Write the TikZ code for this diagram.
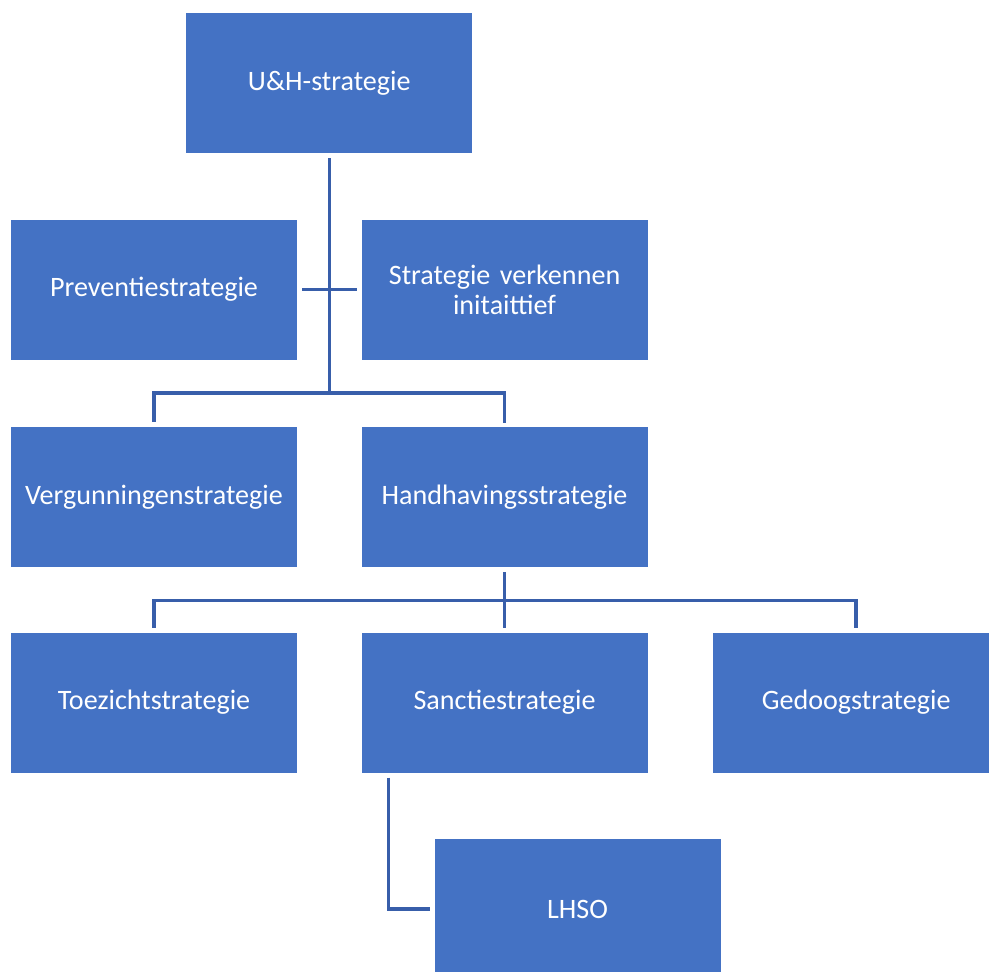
\documentclass[tikz,border=0pt]{standalone}
\usepackage{fontspec}
\setmainfont{Carlito}
\usetikzlibrary{positioning,calc}
\definecolor{boxblue}{HTML}{4472C4}
\definecolor{lineblue}{RGB}{56,94,170}
\tikzset{
  stratbox/.style={fill=boxblue, text=white, align=center, inner sep=0pt,
    minimum width=7.15cm, minimum height=3.5cm, text width=6.8cm,
    font=\fontsize{20}{21.5}\selectfont},
  stratline/.style={draw=lineblue, line width=2.5pt, shorten <=0.12cm, shorten >=0.1cm}
}
\begin{document}
\begin{tikzpicture}
    \useasboundingbox (0,0) rectangle (24.725,-24.3);
    \node[stratbox] (prev) at (3.85,-7.2375) {Preventiestrategie};
    \node[stratbox, right=1.6cm of prev] (verk) {Strategie verkennen\\initaittief};
    \coordinate (mid) at ($(prev.north)!0.5!(verk.north)$);
    \node[stratbox, above=1.65cm of mid] (uh) {U\&H-strategie};
    \node[stratbox, below=1.675cm of prev] (verg) {Vergunningenstrategie};
    \node[stratbox, below=1.675cm of verk] (handh) {Handhavingsstrategie};
    \node[stratbox, below=1.625cm of verg] (toez) {Toezichtstrategie};
    \node[stratbox, below=1.625cm of handh] (sanc) {Sanctiestrategie};
    \node[stratbox, right=1.625cm of sanc] (gedoog) {Gedoogstrategie};
    \node[stratbox, below right=1.65cm and 1.825cm of sanc.south west] (lhso) {LHSO};
    % split points
    \coordinate[below=6cm of uh.south] (split1);
    \coordinate[below=0.825cm of handh.south] (split2);
    \coordinate[right=0.675cm of sanc.south west] (sancfoot);
    \draw[stratline, shorten >=0pt] (uh.south) -- (split1);
    \draw[stratline] (prev.east) -- (verk.west);
    \draw[stratline] (verg.north) |- (split1) -| (handh.north);
    \draw[stratline] (handh.south) -- (sanc.north);
    \draw[stratline] (toez.north) |- (split2) -| (gedoog.north);
    \draw[stratline] (sancfoot) |- (lhso.west);
\end{tikzpicture}
\end{document}
